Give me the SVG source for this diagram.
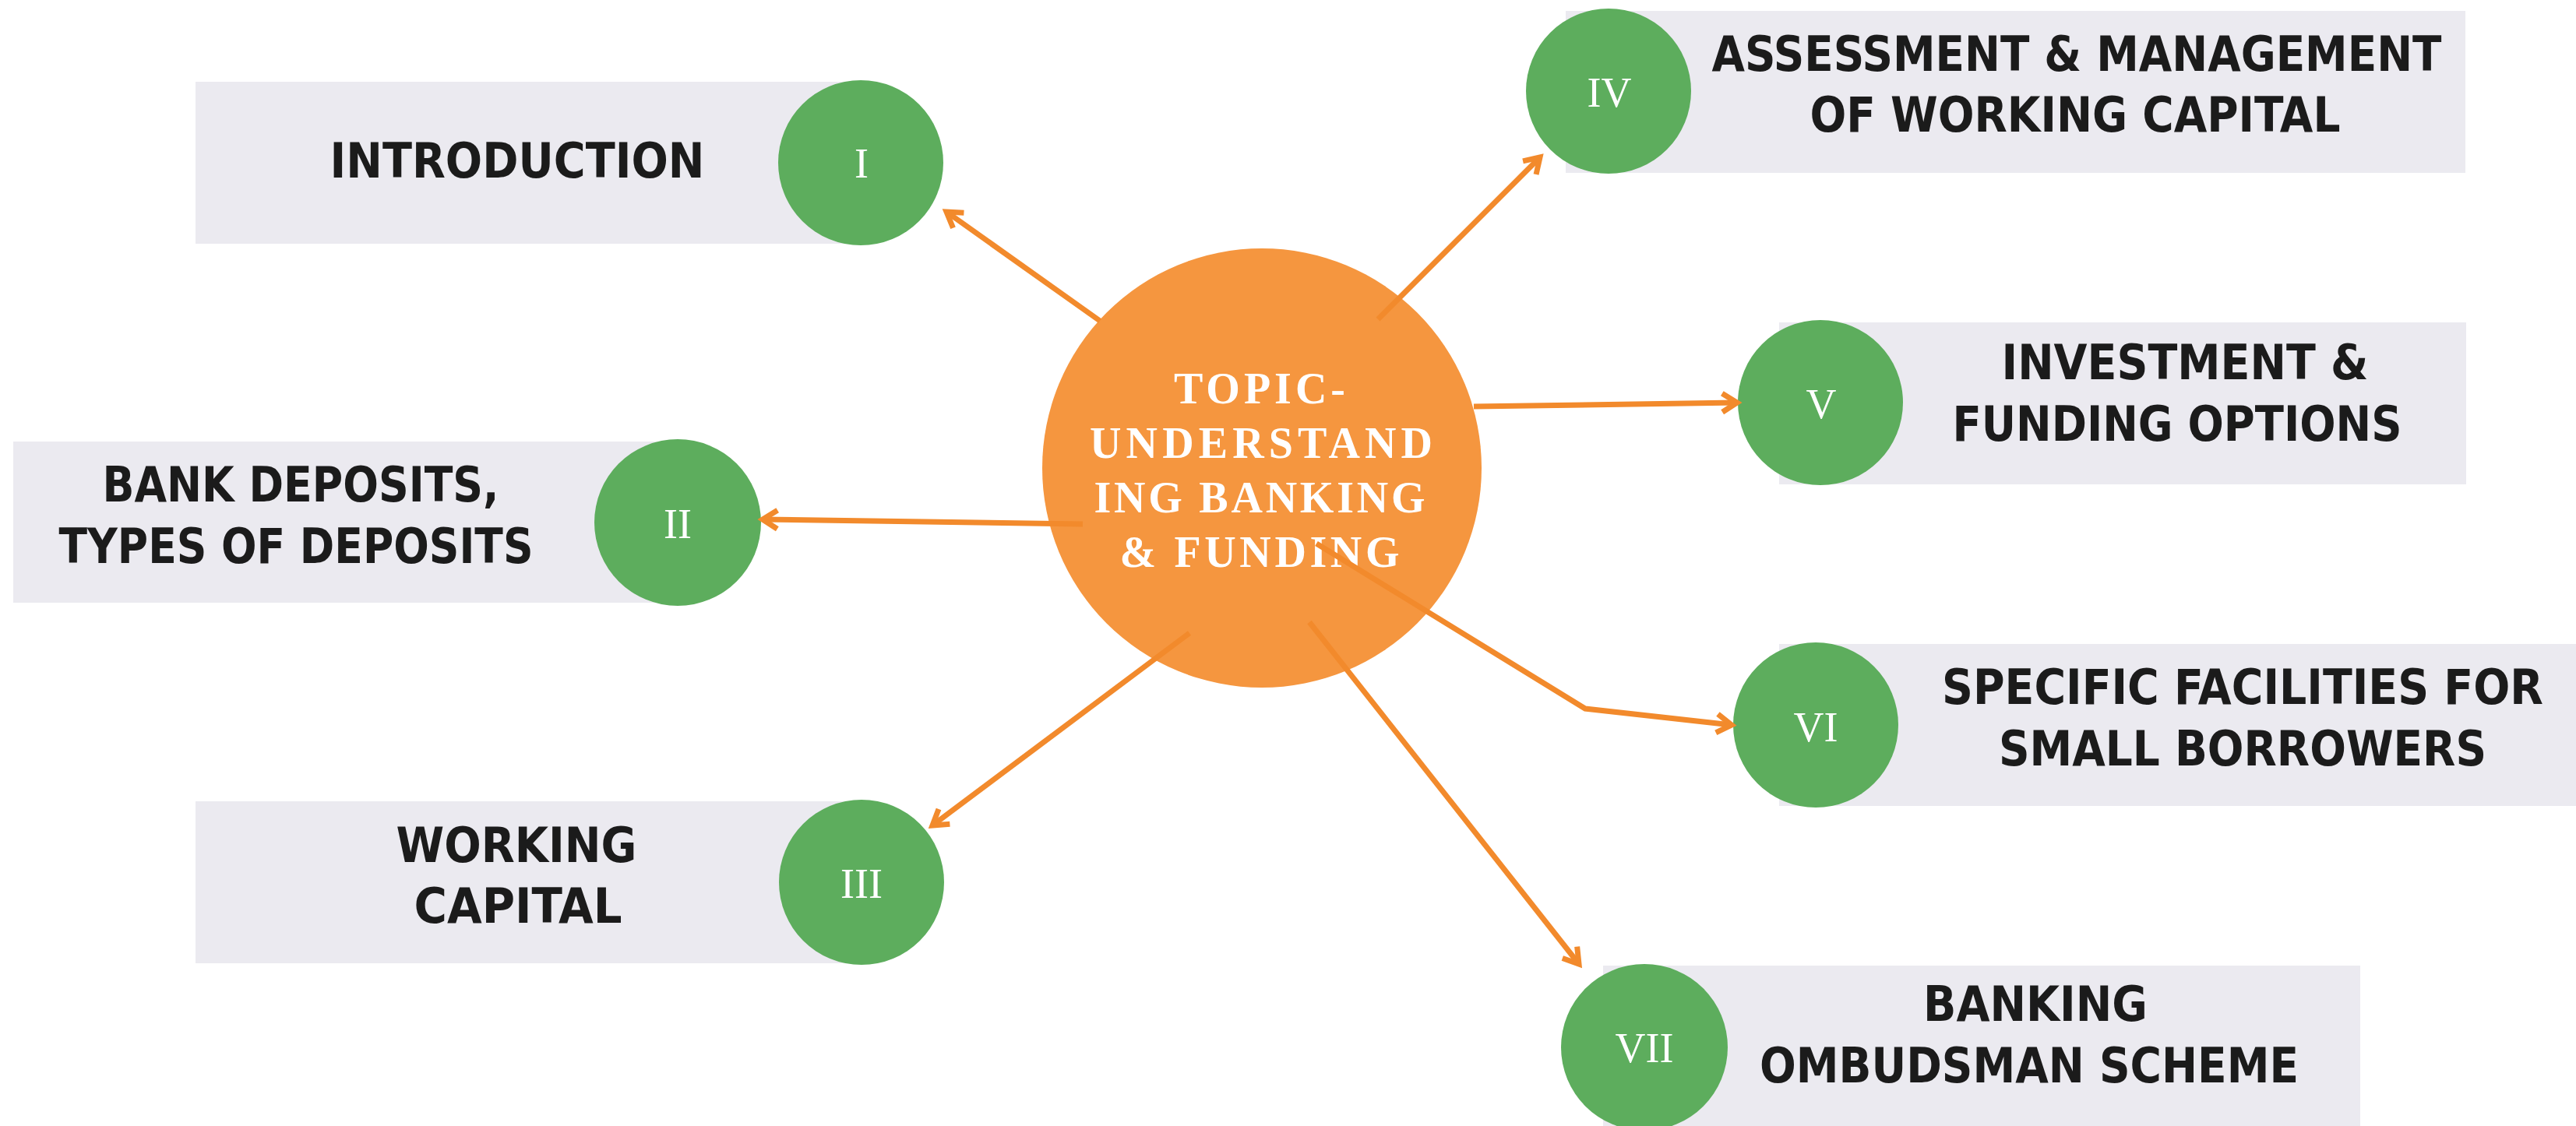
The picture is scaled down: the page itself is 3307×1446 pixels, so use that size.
<svg xmlns="http://www.w3.org/2000/svg" width="3307" height="1446" viewBox="0 0 3307 1446">
  <style>
    .box { fill: #EBEAF0; }
    .num-circle { fill: #5DAD5D; }
    .hub { fill: #F5963F; }
    .label { font-family: 'DejaVu Sans Condensed', 'DejaVu Sans', 'Liberation Sans', sans-serif; font-stretch: condensed; font-weight: bold; font-size: 62px; fill: #1B1B1B; text-anchor: middle; }
    .num { font-family: 'Liberation Serif', 'DejaVu Serif', serif; font-size: 54px; fill: #FFFFFF; text-anchor: middle; }
    .hub-text { font-family: 'Liberation Serif', 'DejaVu Serif', serif; font-weight: bold; font-size: 56px; fill: #FFFFFF; text-anchor: middle; }
    .link { fill: none; stroke: #F28A2C; stroke-width: 7; stroke-linejoin: miter; marker-end: url(#chevron); }
  </style>
  <defs>
    <marker id="chevron" markerUnits="userSpaceOnUse" viewBox="-30 -20 40 40" markerWidth="40" markerHeight="40" refX="0" refY="0" orient="auto">
      <path d="M-19,-12 L0,0 L-19,12" fill="none" stroke="#F28A2C" stroke-width="7" stroke-linejoin="miter"/>
    </marker>
  </defs>

  <rect width="3307" height="1446" fill="#FFFFFF"/>

  <!-- I: Introduction -->
  <g id="node-1">
    <rect class="box" x="251" y="105" width="854" height="208"/>
    <circle class="num-circle" cx="1105" cy="209" r="106"/>
    <text class="label" x="664" y="228" textLength="481" lengthAdjust="spacingAndGlyphs">INTRODUCTION</text>
    <text class="num" x="1106" y="228">I</text>
  </g>

  <!-- II: Bank deposits -->
  <g id="node-2">
    <rect class="box" x="17" y="567" width="853" height="207"/>
    <circle class="num-circle" cx="870" cy="671" r="107"/>
    <text class="label" x="386" y="644" textLength="509" lengthAdjust="spacingAndGlyphs">BANK DEPOSITS,</text>
    <text class="label" x="380" y="723" textLength="609" lengthAdjust="spacingAndGlyphs">TYPES OF DEPOSITS</text>
    <text class="num" x="870" y="691">II</text>
  </g>

  <!-- III: Working capital -->
  <g id="node-3">
    <rect class="box" x="251" y="1029" width="855" height="208"/>
    <circle class="num-circle" cx="1106" cy="1133" r="106"/>
    <text class="label" x="663" y="1107" textLength="309" lengthAdjust="spacingAndGlyphs">WORKING</text>
    <text class="label" x="665" y="1185" textLength="267" lengthAdjust="spacingAndGlyphs">CAPITAL</text>
    <text class="num" x="1106" y="1153">III</text>
  </g>

  <!-- IV: Assessment & management of working capital -->
  <g id="node-4">
    <rect class="box" x="2010" y="14" width="1155" height="208"/>
    <circle class="num-circle" cx="2065" cy="117" r="106"/>
    <text class="label" x="2666" y="91" textLength="937" lengthAdjust="spacingAndGlyphs">ASSESSMENT &amp; MANAGEMENT</text>
    <text class="label" x="2664" y="169" textLength="681" lengthAdjust="spacingAndGlyphs">OF WORKING CAPITAL</text>
    <text class="num" x="2066" y="137">IV</text>
  </g>

  <!-- V: Investment & funding options -->
  <g id="node-5">
    <rect class="box" x="2284" y="414" width="882" height="208"/>
    <circle class="num-circle" cx="2337" cy="517" r="106"/>
    <text class="label" x="2805" y="487" textLength="471" lengthAdjust="spacingAndGlyphs">INVESTMENT &amp;</text>
    <text class="label" x="2795" y="566" textLength="577" lengthAdjust="spacingAndGlyphs">FUNDING OPTIONS</text>
    <text class="num" x="2338" y="537">V</text>
  </g>

  <!-- VI: Specific facilities for small borrowers -->
  <g id="node-6">
    <rect class="box" x="2284" y="827" width="1023" height="208"/>
    <circle class="num-circle" cx="2331" cy="931" r="106"/>
    <text class="label" x="2879" y="904" textLength="772" lengthAdjust="spacingAndGlyphs">SPECIFIC FACILITIES FOR</text>
    <text class="label" x="2879" y="983" textLength="626" lengthAdjust="spacingAndGlyphs">SMALL BORROWERS</text>
    <text class="num" x="2331" y="952">VI</text>
  </g>

  <!-- VII: Banking ombudsman scheme -->
  <g id="node-7">
    <rect class="box" x="2058" y="1240" width="972" height="206"/>
    <circle class="num-circle" cx="2111" cy="1345" r="107"/>
    <text class="label" x="2613" y="1311" textLength="288" lengthAdjust="spacingAndGlyphs">BANKING</text>
    <text class="label" x="2605" y="1390" textLength="692" lengthAdjust="spacingAndGlyphs">OMBUDSMAN SCHEME</text>
    <text class="num" x="2111" y="1364">VII</text>
  </g>

  <!-- central topic -->
  <g id="hub">
    <circle class="hub" cx="1620" cy="601" r="282"/>
    <text class="hub-text" x="1617" y="518" textLength="220" lengthAdjust="spacing">TOPIC-</text>
    <text class="hub-text" x="1619" y="588" textLength="440" lengthAdjust="spacing">UNDERSTAND</text>
    <text class="hub-text" x="1617" y="658" textLength="425" lengthAdjust="spacing">ING BANKING</text>
    <text class="hub-text" x="1617" y="728" textLength="359" lengthAdjust="spacing">&amp;  FUNDING</text>
  </g>

  <!-- arrows from the hub to each topic -->
  <g id="connectors">
    <path class="link" d="M1412,412 L1215,272"/>
    <path class="link" d="M1390,673 L979,667"/>
    <path class="link" d="M1527,813 L1197,1060"/>
    <path class="link" d="M1769,410 L1977,202"/>
    <path class="link" d="M1892,522 L2230,517"/>
    <path class="link" d="M1690,698 L2035,910 L2223,931"/>
    <path class="link" d="M1681,799 L2027,1238"/>
  </g>
</svg>
